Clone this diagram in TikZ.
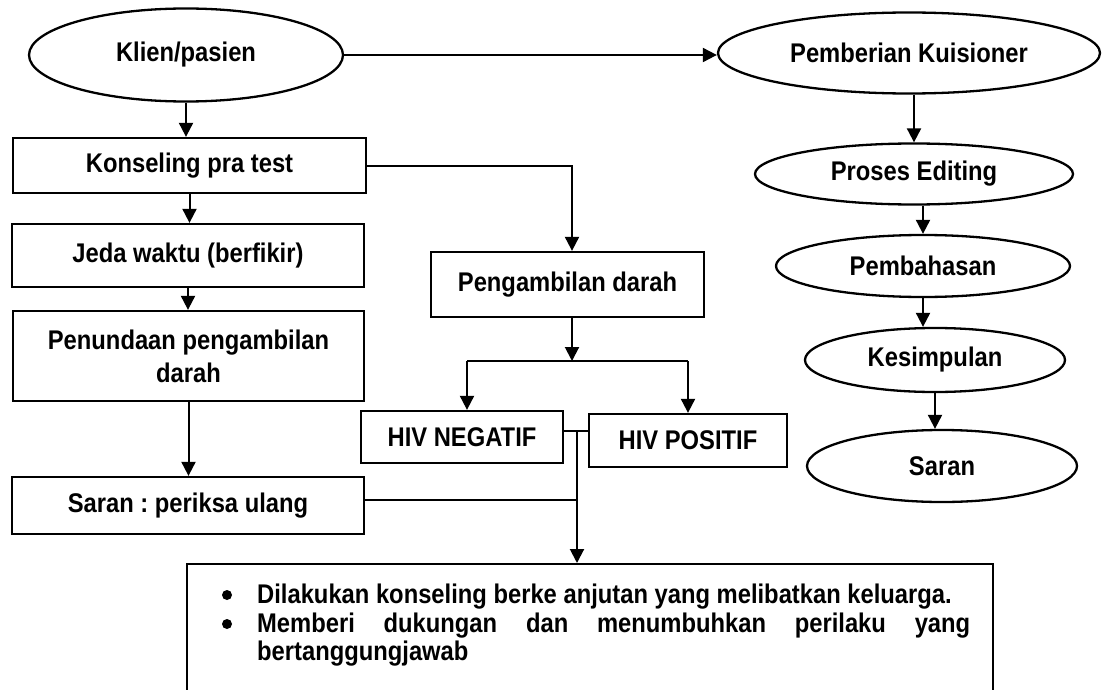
\documentclass[tikz,border=0pt]{standalone}
\usepackage{fontspec}
\setmainfont{Liberation Sans}[FakeStretch=0.88]
\usetikzlibrary{arrows.meta,shapes.geometric}
\frenchspacing
\begin{document}
\begin{tikzpicture}[x=1pt,y=-1pt,
  every node/.style={font=\fontsize{27}{28.5}\selectfont\bfseries},
  box/.style={draw,line width=2.3pt,rectangle,inner sep=0pt,align=center},
  oval/.style={draw,line width=2.3pt,ellipse,inner sep=0pt},
  arr/.style={line width=2pt,-{Triangle[length=14pt,width=14pt]}},
  ln/.style={line width=2pt},
  txt/.style={anchor=base west,inner sep=0pt},
  dot/.style={circle,fill,inner sep=0pt,minimum size=10pt}]
\useasboundingbox (0,0) rectangle (1102,690);
\clip (0,0) rectangle (1102,690);

% left column
\node[oval,minimum width=314pt,minimum height=93pt] (klien) at (186,55) {Klien/pasien};
\node[box,minimum width=353pt,minimum height=55pt] (kons) at (189.5,165.5) {Konseling pra test};
\node[box,minimum width=352pt,minimum height=63pt] (jeda) at (188,255.5) {Jeda waktu (berfikir)};
\node[box,minimum width=351pt,minimum height=90pt] (tunda) at (188.5,356) {Penundaan pengambilan\\[4.5pt]darah};
\node[box,minimum width=352pt,minimum height=57pt] (saranp) at (188,505.5) {Saran : periksa ulang};

% middle
\node[box,minimum width=273pt,minimum height=65pt] (ambil) at (567.5,284.5) {Pengambilan darah};
\node[box,minimum width=202pt,minimum height=52pt] (neg) at (462,437) {HIV NEGATIF};
\node[box,minimum width=198pt,minimum height=53pt] (pos) at (688,440.5) {HIV POSITIF};

% right column
\node[oval,minimum width=382pt,minimum height=81pt] (kuis) at (909,53) {Pemberian Kuisioner};
\node[oval,minimum width=318pt,minimum height=61pt] (edit) at (914,174) {Proses Editing};
\node[oval,minimum width=294pt,minimum height=62pt] (bahas) at (923,266) {Pembahasan};
\node[oval,minimum width=260pt,minimum height=64pt] (simpul) at (935,360) {Kesimpulan};
\node[oval,minimum width=270pt,minimum height=72pt] (saran) at (942,466) {Saran};

% bottom box
\node[draw,line width=2.3pt,rectangle,inner sep=0pt,anchor=north west,minimum width=806pt,minimum height=160pt] (ket) at (186,563) {};
\node[dot] (b1) at (227,595) {};
\node[dot] (b2) at (227,624) {};
\node[txt] (t1) at (257,603) {Dilakukan konseling berke anjutan yang melibatkan keluarga.};
\node[txt] (t2) at (257,632) {\hbox to 713pt{Memberi\hfill dukungan\hfill dan\hfill menumbuhkan\hfill perilaku\hfill yang}};
\node[txt] (t3) at (257,660) {bertanggungjawab};

% connectors left
\draw[arr] (klien.south) -- (klien.south |- kons.north);
\draw[arr] (kons.south) -- (kons.south |- jeda.north);
\draw[arr] (jeda.south) -- (jeda.south |- tunda.north);
\draw[arr] (tunda.south) -- (tunda.south |- saranp.north);

% top horizontal
\draw[arr] (klien.east) -- (klien.east -| kuis.west);

% right column
\draw[arr] (kuis.south -| edit.north) -- (edit.north);
\draw[arr] (edit.south -| bahas.north) -- (bahas.north);
\draw[arr] (bahas.south) -- (bahas.south |- simpul.north);
\draw[arr] (simpul.south) -- (simpul.south |- saran.north);

% middle connectors
\draw[arr] (kons.east) -| ([xshift=4.5pt]ambil.north);
\coordinate (bj) at (572,361);
\coordinate (bl) at (467,361);
\coordinate (br) at (688,361);
\draw[arr] ([xshift=4.5pt]ambil.south) -- (bj);
\draw[ln] (bl) -- (br);
\draw[arr] (bl) -- (bl |- neg.north);
\draw[arr] (br) -- (br |- pos.north);

\coordinate (jn) at (577,431);
\draw[ln] (neg.east |- jn) -- (pos.west |- jn);
\draw[ln] ([yshift=5.5pt]saranp.east) -- ([yshift=5.5pt]saranp.east -| jn);
\draw[arr] (jn) -- (jn |- ket.north);
\end{tikzpicture}
\end{document}
